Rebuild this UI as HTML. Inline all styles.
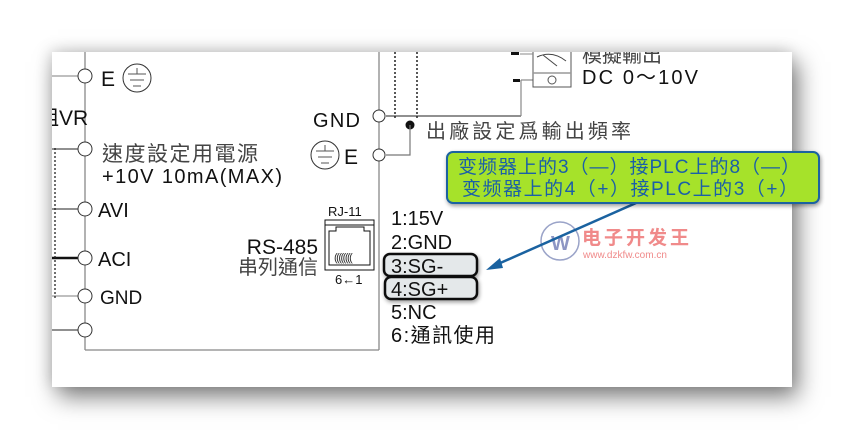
<!DOCTYPE html>
<html><head><meta charset="utf-8"><style>
html,body{margin:0;padding:0;background:#fff;width:844px;height:440px;overflow:hidden}
#pg{position:absolute;left:52px;top:52px;width:740px;height:335px;background:#fff;box-shadow:6px 10px 22px rgba(0,0,0,.5),-2px -2px 14px rgba(0,0,0,.15)}
svg{position:absolute;left:0;top:0}
text{font-family:"Liberation Sans","Noto Sans CJK TC",sans-serif}
</style></head><body>
<div id="pg"></div>
<svg width="844" height="440" viewBox="0 0 844 440">
<defs><clipPath id="c"><rect x="52" y="52" width="740" height="335"/></clipPath>
<filter id="sh" x="-20%" y="-20%" width="140%" height="160%"><feGaussianBlur in="SourceAlpha" stdDeviation="2"/><feOffset dx="1" dy="2"/><feComponentTransfer><feFuncA type="linear" slope="0.4"/></feComponentTransfer><feMerge><feMergeNode/><feMergeNode in="SourceGraphic"/></feMerge></filter></defs>
<g clip-path="url(#c)">
<line x1="85" y1="52" x2="85" y2="350" stroke="#888" stroke-width="1.3"/>
<line x1="85" y1="350" x2="379" y2="350" stroke="#888" stroke-width="1.3"/>
<line x1="379" y1="52" x2="379" y2="350" stroke="#888" stroke-width="1.3"/>
<line x1="52" y1="76" x2="78" y2="76" stroke="#999" stroke-width="1.3"/>
<line x1="52" y1="149" x2="78" y2="149" stroke="#222" stroke-width="1"/>
<line x1="52" y1="209" x2="78" y2="209" stroke="#222" stroke-width="1"/>
<line x1="52" y1="258" x2="78" y2="258" stroke="#111" stroke-width="2.5"/>
<line x1="52" y1="296" x2="78" y2="296" stroke="#aaa" stroke-width="1.5"/>
<line x1="52" y1="330" x2="78" y2="330" stroke="#222" stroke-width="1"/>
<line x1="55" y1="148" x2="55" y2="300" stroke="#222" stroke-width="1.3" stroke-dasharray="2,2"/>
<g fill="#fff" stroke="#333" stroke-width="1">
<circle cx="85" cy="76" r="7"/><circle cx="85" cy="149" r="7"/><circle cx="85" cy="209" r="7"/><circle cx="85" cy="258" r="7"/><circle cx="85" cy="296" r="7"/><circle cx="85" cy="330" r="7"/>
</g>
<text x="101" y="86" font-size="21" fill="#111">E</text>
<circle cx="137" cy="78" r="14" fill="#fff" stroke="#333" stroke-width="1"/>
<line x1="137" y1="68" x2="137" y2="74" stroke="#555"/><line x1="128" y1="74" x2="146" y2="74" stroke="#555"/><line x1="130" y1="80" x2="144" y2="80" stroke="#555"/><line x1="133" y1="86" x2="141" y2="86" stroke="#555"/>
<text x="38" y="125" font-size="21" fill="#111">阻VR</text>
<text x="102" y="161" font-size="21" fill="#444" textLength="156">速度設定用電源</text>
<text x="102" y="183" font-size="20" fill="#111" textLength="180">+10V 10mA(MAX)</text>
<text x="98" y="217" font-size="20" fill="#111">AVI</text>
<text x="98" y="266" font-size="20" fill="#111">ACI</text>
<text x="100" y="304" font-size="19" fill="#111">GND</text>
<line x1="395" y1="52" x2="395" y2="120" stroke="#111" stroke-width="1.4" stroke-dasharray="2,2"/>
<line x1="417" y1="52" x2="417" y2="120" stroke="#111" stroke-width="1.4" stroke-dasharray="2,2"/>
<line x1="386" y1="116" x2="521" y2="116" stroke="#222" stroke-width="1"/>
<line x1="521" y1="116" x2="521" y2="80" stroke="#888" stroke-width="1.2"/>
<line x1="521" y1="80" x2="533" y2="80" stroke="#888" stroke-width="1.2"/>
<circle cx="410" cy="125" r="4.5" fill="#111"/>
<polyline points="386,155 410,155 410,125" fill="none" stroke="#777" stroke-width="1.2"/>
<circle cx="379" cy="116" r="6" fill="#fff" stroke="#333"/>
<circle cx="379" cy="155" r="6" fill="#fff" stroke="#333"/>
<text x="313" y="127" font-size="20" fill="#111" textLength="47">GND</text>
<text x="344" y="164" font-size="21" fill="#111">E</text>
<circle cx="325" cy="155" r="14" fill="#fff" stroke="#333"/>
<line x1="325" y1="145" x2="325" y2="151" stroke="#555"/><line x1="316" y1="151" x2="334" y2="151" stroke="#555"/><line x1="318" y1="157" x2="332" y2="157" stroke="#555"/><line x1="321" y1="163" x2="329" y2="163" stroke="#555"/>
<text x="426" y="138" font-size="20" fill="#444" textLength="205">出廠設定爲輸出頻率</text>
<rect x="533" y="40" width="38" height="47" fill="#fff" stroke="#555"/>
<line x1="533" y1="73" x2="571" y2="73" stroke="#999" stroke-width="1.5"/>
<circle cx="552" cy="80" r="4" fill="#fff" stroke="#555"/>
<path d="M537 57 Q552 50 566 61" fill="none" stroke="#444"/><line x1="543" y1="55" x2="557" y2="66" stroke="#444"/>
<rect x="511" y="52" width="8" height="3" fill="#111"/><line x1="520" y1="54" x2="533" y2="54" stroke="#888"/>
<rect x="513" y="79" width="7" height="3" fill="#111"/>
<text x="582" y="62" font-size="20" fill="#444">模擬輸出</text>
<text x="582" y="84" font-size="20" fill="#111" textLength="116">DC 0～10V</text>
<text x="328" y="216" font-size="13" fill="#111">RJ-11</text>
<rect x="325" y="220" width="49" height="50" fill="#fff" stroke="#111"/>
<line x1="325" y1="225" x2="374" y2="225" stroke="#111"/>
<path d="M329 231 L336 231 L336 227 L364 227 L364 231 L370 231 L370 265 L329 265 Z" fill="none" stroke="#111"/>
<text x="334" y="261" font-size="11" fill="#333" letter-spacing="-1.5">((((((((</text>
<text x="335" y="284" font-size="13" fill="#111">6←1</text>
<text x="318" y="254" font-size="21" fill="#111" text-anchor="end">RS-485</text>
<text x="318" y="274" font-size="20" fill="#444" text-anchor="end">串列通信</text>
<rect x="384" y="254" width="93" height="22" rx="6" fill="#e4e8ea" stroke="#111" stroke-width="2.5" filter="url(#sh)"/>
<rect x="385" y="277" width="92" height="22" rx="6" fill="#e4e8ea" stroke="#111" stroke-width="2.5" filter="url(#sh)"/>
<g font-size="20" fill="#111">
<text x="391" y="225">1:15V</text><text x="391" y="249">2:GND</text>
<text x="391" y="273">3:SG-</text><text x="391" y="296">4:SG+</text>
<text x="391" y="319">5:NC</text><text x="391" y="342" textLength="104">6:通訊使用</text>
</g>
<circle cx="560" cy="241" r="19" fill="none" stroke="#9aa3c8" stroke-width="1.5"/>
<text x="551" y="250" font-size="20" fill="#8d96c4" font-weight="bold">W</text>
<text x="582" y="244" font-size="19" fill="#f08a8a" font-weight="bold" letter-spacing="3">电子开发王</text>
<text x="583" y="258" font-size="10" fill="#f08a8a" font-family="Liberation Mono,monospace">www.dzkfw.com.cn</text>
<line x1="636" y1="203" x2="498" y2="264" stroke="#1a62a0" stroke-width="2.5"/>
<polygon points="486,270 500,258 503,268" fill="#1a62a0"/>
</g>
<rect x="447" y="152" width="372" height="51" rx="6" fill="#a6e22b" stroke="#1a62a0" stroke-width="2" filter="url(#sh)"/>
<text x="458" y="173" font-size="19" fill="#1a5fa8" textLength="342">变频器上的3（—）接PLC上的8（—）</text>
<text x="462" y="195" font-size="19" fill="#1a5fa8" textLength="336">变频器上的4（+）接PLC上的3（+）</text>
</svg>
</body></html>
